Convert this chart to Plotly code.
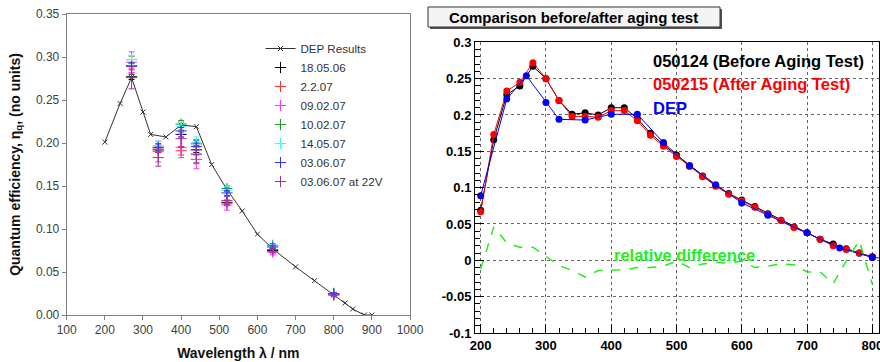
import plotly.graph_objects as go

W, H = 880, 362
def px(x): return x / W
def py(y): return 1 - y / H

# ---------------- Left panel data ----------------
dep_left_wl = [200, 240, 270, 300, 320, 360, 400, 440, 480, 520, 560, 600, 640, 700, 750, 800, 830, 850, 880, 900]
dep_left_qe = [0.201, 0.246, 0.276, 0.236, 0.210, 0.207, 0.221, 0.219, 0.175, 0.146, 0.121, 0.094, 0.077,
               0.056, 0.040, 0.024, 0.014, 0.007, 0.000, 0.000]

meas_wl = [270, 340, 400, 440, 520, 640, 800]
series_names = ["18.05.06", "2.2.07", "09.02.07", "10.02.07", "14.05.07", "03.06.07", "03.06.07 at 22V"]
series_colors = ["#000000", "#ff3030", "#ff33ff", "#229922", "#33ffff", "#3333ff", "#993399"]
qe_180506 = [0.277, 0.192, 0.210, 0.192, 0.131, 0.075, 0.024]
qe_020207 = [0.290, 0.193, 0.191, 0.181, 0.130, 0.074, 0.024]
qe_090207 = [0.294, 0.190, 0.195, 0.187, 0.128, 0.073, 0.024]
qe_100207 = [0.297, 0.195, 0.222, 0.199, 0.147, 0.081, 0.025]
qe_140507 = [0.297, 0.197, 0.219, 0.201, 0.145, 0.080, 0.025]
qe_030607 = [0.289, 0.195, 0.214, 0.196, 0.142, 0.079, 0.025]
qe_030607_22v = [0.276, 0.183, 0.205, 0.187, 0.133, 0.076, 0.023]
err_180506 = [0.003, 0.003, 0.003, 0.003, 0.002, 0.002, 0.001]
err_020207 = [0.003, 0.004, 0.005, 0.005, 0.003, 0.002, 0.001]
err_090207 = [0.012, 0.012, 0.012, 0.017, 0.006, 0.003, 0.002]
err_100207 = [0.004, 0.004, 0.004, 0.004, 0.003, 0.002, 0.001]
err_140507 = [0.005, 0.005, 0.006, 0.006, 0.004, 0.002, 0.001]
err_030607 = [0.004, 0.004, 0.004, 0.004, 0.003, 0.002, 0.001]
err_030607_22v = [0.013, 0.010, 0.010, 0.010, 0.005, 0.003, 0.002]
series_vals = [qe_180506, qe_020207, qe_090207, qe_100207, qe_140507, qe_030607, qe_030607_22v]
series_errs = [err_180506, err_020207, err_090207, err_100207, err_140507, err_030607, err_030607_22v]

left_xticks = [100, 200, 300, 400, 500, 600, 700, 800, 900, 1000]
left_yticks = [0.00, 0.05, 0.10, 0.15, 0.20, 0.25, 0.30, 0.35]

# ---------------- Right panel data ----------------
wl20 = [200, 220, 240, 260, 280, 300, 320, 340, 360, 380, 400, 420, 440, 460, 480, 500,
        520, 540, 560, 580, 600, 620, 640, 660, 680, 700, 720, 740, 760, 780, 800]
before_050124 = [0.069, 0.166, 0.228, 0.240, 0.267, 0.250, 0.220, 0.201, 0.203, 0.200, 0.210, 0.210,
                 0.195, 0.175, 0.159, 0.145, 0.130, 0.116, 0.103, 0.092, 0.083, 0.074, 0.064, 0.055,
                 0.046, 0.038, 0.029, 0.0225, 0.016, 0.010, 0.005]
after_050215 = [0.067, 0.173, 0.233, 0.245, 0.272, 0.250, 0.220, 0.198, 0.198, 0.197, 0.206, 0.206,
                0.192, 0.172, 0.157, 0.143, 0.129, 0.115, 0.102, 0.091, 0.082, 0.073, 0.063, 0.055,
                0.045, 0.038, 0.029, 0.020, 0.015, 0.010, 0.004]
rel_diff = [-0.012, 0.046, 0.024, 0.018, 0.018, 0.005, -0.007, -0.014, -0.023, -0.014, -0.013, -0.013,
            -0.010, -0.010, -0.008, -0.001, -0.010, -0.005, -0.003, -0.004, -0.001, -0.010, -0.008,
            -0.005, -0.006, -0.016, -0.016, -0.032, -0.001, 0.027, -0.033]
dep_right_wl = [200, 240, 270, 300, 320, 360, 400, 440, 480, 520, 560, 600, 640, 700, 750, 800, 830]
dep_right = [0.089, 0.222, 0.254, 0.217, 0.194, 0.193, 0.201, 0.201, 0.162, 0.130, 0.104, 0.079,
             0.062, 0.038, 0.017, 0.004, 0.002]

right_xticks = [200, 300, 400, 500, 600, 700, 800]
right_yticks = [-0.1, -0.05, 0, 0.05, 0.1, 0.15, 0.2, 0.25, 0.3]
right_yticktext = ["-0.1", "-0.05", "0", "0.05", "0.1", "0.15", "0.2", "0.25", "0.3"]

FONT = "Liberation Sans, Arial, sans-serif"

fig = go.Figure()

# Left: DEP results
fig.add_trace(go.Scatter(
    x=dep_left_wl, y=dep_left_qe, mode="lines+markers", name="DEP Results",
    line=dict(color="#333333", width=1),
    marker=dict(symbol="x-thin", size=5, line=dict(color="#333333", width=1)),
    xaxis="x", yaxis="y", legend="legend"))

for name, col, vals, errs in zip(series_names, series_colors, series_vals, series_errs):
    fig.add_trace(go.Scatter(
        x=meas_wl, y=vals, mode="markers", name=name,
        marker=dict(symbol="cross-thin", size=8, color=col, line=dict(color=col, width=1)),
        error_y=dict(type="data", array=errs, visible=True, color=col, thickness=1, width=3),
        xaxis="x", yaxis="y", legend="legend"))

# Right panel
fig.add_trace(go.Scatter(
    x=wl20, y=before_050124, mode="lines+markers", name="050124 (Before Aging Test)",
    line=dict(color="black", width=1), marker=dict(symbol="circle", size=7, color="black"),
    xaxis="x2", yaxis="y2", showlegend=False))
fig.add_trace(go.Scatter(
    x=wl20, y=after_050215, mode="lines+markers", name="050215 (After Aging Test)",
    line=dict(color="#ff0000", width=1), marker=dict(symbol="circle", size=7, color="#ff0000"),
    xaxis="x2", yaxis="y2", showlegend=False))
fig.add_trace(go.Scatter(
    x=dep_right_wl, y=dep_right, mode="lines+markers", name="DEP",
    line=dict(color="#0000ff", width=1), marker=dict(symbol="circle", size=7, color="#0000ff"),
    xaxis="x2", yaxis="y2", showlegend=False))
fig.add_trace(go.Scatter(
    x=wl20, y=rel_diff, mode="lines", name="relative difference",
    line=dict(color="#22ee22", width=1.5, dash="dash"),
    xaxis="x2", yaxis="y2", showlegend=False))

left_axis_common = dict(showgrid=False, zeroline=False, showline=True, linecolor="#808080",
                        linewidth=1, mirror=True, ticks="outside", ticklen=4, tickcolor="#808080",
                        automargin=False,
                        tickfont=dict(family=FONT, size=12, color="#404040"))

fig.update_layout(
    width=W, height=H, margin=dict(l=0, r=0, t=0, b=0, pad=0, autoexpand=False),
    paper_bgcolor="white", plot_bgcolor="white",
    font=dict(family=FONT), hovermode=False,
    xaxis=dict(domain=[px(66.7), px(410)], range=[100, 1000], tickvals=left_xticks,
               title=dict(text="<b>Wavelength λ / nm</b>", font=dict(family=FONT, size=14, color="#111"), standoff=11),
               anchor="y", **left_axis_common),
    yaxis=dict(domain=[py(315), py(14)], range=[0, 0.35], tickvals=left_yticks, tickformat=".2f",
               title=dict(text="<b>Quantum efficiency, η<sub>q</sub>, (no units)</b>",
                          font=dict(family=FONT, size=14, color="#111"), standoff=12),
               anchor="x", **left_axis_common),
    xaxis2=dict(domain=[px(475), px(879)], range=[191.3, 810.2], tickvals=right_xticks,
                showgrid=True, gridcolor="#666666", griddash="dot", gridwidth=1,
                zeroline=False, showline=True, linecolor="black", linewidth=1, mirror=True,
                ticks="inside", ticklen=9, tickcolor="black", automargin=False,
                ticklabeloverflow="allow",
                minor=dict(dtick=20, tick0=200, ticks="inside", ticklen=5, tickcolor="black", showgrid=False),
                tickfont=dict(family=FONT, size=13, color="black", weight="bold"),
                anchor="y2"),
    yaxis2=dict(domain=[py(333), py(42.3)], range=[-0.1, 0.3], tickvals=right_yticks, ticktext=right_yticktext,
                showgrid=True, gridcolor="#666666", griddash="dot", gridwidth=1,
                zeroline=False, showline=True, linecolor="black", linewidth=1, mirror=True,
                ticks="inside", ticklen=9, tickcolor="black", automargin=False,
                ticklabeloverflow="allow",
                minor=dict(dtick=0.01, tick0=0, ticks="inside", ticklen=5, tickcolor="black", showgrid=False),
                tickfont=dict(family=FONT, size=13, color="black", weight="bold"),
                anchor="x2"),
    legend=dict(x=px(260.5), y=py(34), xanchor="left", yanchor="top",
                bgcolor="rgba(0,0,0,0)", font=dict(family=FONT, size=11.6, color="#333333"),
                tracegroupgap=0, itemwidth=30),
)

# Title box (right panel)
fig.add_shape(type="rect", xref="paper", yref="paper", x0=px(430), x1=px(722), y0=py(29), y1=py(9),
              line=dict(width=0), fillcolor="#555555", layer="above")
fig.add_shape(type="rect", xref="paper", yref="paper", x0=px(428), x1=px(720), y0=py(27), y1=py(7),
              line=dict(color="#333333", width=1), fillcolor="#f4f4f4", layer="above")
fig.add_annotation(xref="paper", yref="paper", x=px(573), y=py(17.3), xanchor="center", yanchor="middle",
                   text="<b>Comparison before/after aging test</b>", showarrow=False,
                   font=dict(family=FONT, size=15, color="black"))

# In-plot labels (right panel)
fig.add_annotation(xref="paper", yref="paper", x=px(650.5), y=py(60.7), xanchor="left", yanchor="middle",
                   text="<b>050124 (Before Aging Test)</b>", showarrow=False,
                   font=dict(family=FONT, size=16.5, color="black"))
fig.add_annotation(xref="paper", yref="paper", x=px(650.5), y=py(84.3), xanchor="left", yanchor="middle",
                   text="<b>050215 (After Aging Test)</b>", showarrow=False,
                   font=dict(family=FONT, size=16.5, color="#ff0000"))
fig.add_annotation(xref="paper", yref="paper", x=px(650.5), y=py(108.3), xanchor="left", yanchor="middle",
                   text="<b>DEP</b>", showarrow=False,
                   font=dict(family=FONT, size=16.5, color="#0000ff"))
fig.add_annotation(xref="paper", yref="paper", x=px(611.5), y=py(255), xanchor="left", yanchor="middle",
                   text="<b>relative difference</b>", showarrow=False,
                   font=dict(family=FONT, size=16.5, color="#22ee22"))

fig.write_html("out.html", config={"displayModeBar": False, "staticPlot": True},
               post_script="document.body.style.margin='0';")
